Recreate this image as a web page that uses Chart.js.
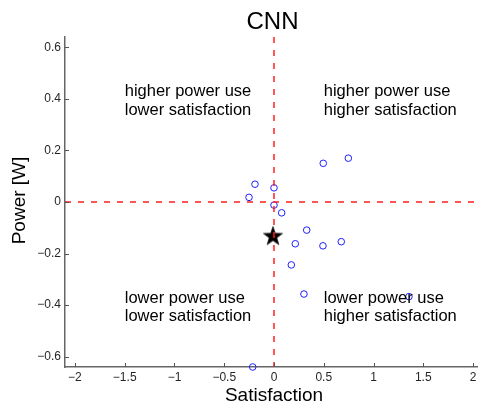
<!DOCTYPE html>
<html>
<head>
<meta charset="utf-8">
<script src="https://cdn.jsdelivr.net/npm/chart.js@4/dist/chart.umd.min.js"></script>
<style>
  html, body { margin: 0; padding: 0; background: #fff; }
  #wrap { width: 478px; height: 410px; position: relative; }
</style>
</head>
<body>
<div id="wrap"><canvas id="c" width="478" height="410"></canvas></div>
<script>
// Per-configuration results: satisfaction change vs. power change
const satisfaction = [0.495, 0.747, -0.191, 0.0, -0.251, 0.0, 0.077, 0.329, 0.214, 0.492, 0.676, 0.174, 0.301, 1.356, -0.214];
const power        = [0.150, 0.170, 0.069, 0.055, 0.018, -0.012, -0.042, -0.109, -0.162, -0.170, -0.154, -0.244, -0.357, -0.367, -0.640];

// Reference point (star)
const refSatisfaction = [-0.01];
const refPower = [-0.134];

// Axis limits and ticks
const xLimits = [-2.1, 2.05];
const yLimits = [-0.64, 0.64];
const xTicks = [-2, -1.5, -1, -0.5, 0, 0.5, 1, 1.5, 2];
const yTicks = [-0.6, -0.4, -0.2, 0, 0.2, 0.4, 0.6];

// Quadrant captions: [x, y, line1, line2]
const quadrantX = [-1.5, 0.5, -1.5, 0.5];
const quadrantY = [0.4, 0.4, -0.4, -0.4];
const quadrantText = [
  ['higher power use', 'lower satisfaction'],
  ['higher power use', 'higher satisfaction'],
  ['lower power use', 'lower satisfaction'],
  ['lower power use', 'higher satisfaction']
];

const titleText = 'CNN';
const xLabel = 'Satisfaction';
const yLabel = 'Power [W]';

const FONT = '"Liberation Sans", Arial, sans-serif';

// Filled five-pointed star marker
function makeStar(outer, inner, color) {
  const size = Math.ceil(outer * 2 + 4);
  const cv = document.createElement('canvas');
  cv.width = size; cv.height = size;
  const g = cv.getContext('2d');
  const c = size / 2;
  g.beginPath();
  for (let i = 0; i < 10; i++) {
    const r = i % 2 === 0 ? outer : inner;
    const a = -Math.PI / 2 + i * Math.PI / 5;
    const px = c + r * Math.cos(a), py = c + r * Math.sin(a);
    if (i === 0) g.moveTo(px, py); else g.lineTo(px, py);
  }
  g.closePath();
  g.fillStyle = color;
  g.fill();
  g.lineWidth = 0.8;
  g.strokeStyle = '#222';
  g.stroke();
  return cv;
}
const starImg = makeStar(10, 4, '#000');

const fmt = v => String(v).replace('-', '\u2212');

// Inward tick marks, captions, title and axis labels
const decorations = {
  id: 'decorations',
  afterDraw(chart) {
    const ctx = chart.ctx;
    const xs = chart.scales.x, ys = chart.scales.y;
    const area = chart.chartArea;
    ctx.save();
    ctx.strokeStyle = '#555';
    ctx.lineWidth = 1;
    xTicks.forEach(v => {
      const px = Math.round(xs.getPixelForValue(v)) + 0.5;
      ctx.beginPath(); ctx.moveTo(px, area.bottom); ctx.lineTo(px, area.bottom - 4); ctx.stroke();
    });
    yTicks.forEach(v => {
      const py = Math.round(ys.getPixelForValue(v)) + 0.5;
      ctx.beginPath(); ctx.moveTo(area.left, py); ctx.lineTo(area.left + 4, py); ctx.stroke();
    });

    ctx.fillStyle = '#000';
    ctx.textAlign = 'left';
    ctx.textBaseline = 'alphabetic';
    ctx.font = '16.5px ' + FONT;
    quadrantText.forEach((lines, i) => {
      const px = xs.getPixelForValue(quadrantX[i]);
      const py = ys.getPixelForValue(quadrantY[i]);
      ctx.fillText(lines[0], px, py - 2.5);
      ctx.fillText(lines[1], px, py + 16);
    });

    ctx.textAlign = 'center';
    ctx.font = '24px ' + FONT;
    ctx.fillText(titleText, 272.5, 28.5);

    ctx.font = '19px ' + FONT;
    ctx.fillText(xLabel, 274, 401);

    ctx.save();
    ctx.translate(24.5, 200.5);
    ctx.rotate(-Math.PI / 2);
    ctx.fillText(yLabel, 0, 0);
    ctx.restore();
    ctx.restore();
  }
};

const points = satisfaction.map((s, i) => ({ x: s, y: power[i] }));
const refPoints = refSatisfaction.map((s, i) => ({ x: s, y: refPower[i] }));

const axisColor = '#666';
const tickFont = { family: FONT, size: 12 };

new Chart(document.getElementById('c'), {
  type: 'scatter',
  data: {
    datasets: [
      {
        type: 'line',
        data: [{ x: xLimits[0], y: 0 }, { x: xLimits[1], y: 0 }],
        borderColor: 'rgb(255,30,30)',
        borderWidth: 1.5,
        borderDash: [6, 7],
        pointRadius: 0,
        fill: false
      },
      {
        type: 'line',
        data: [{ x: 0, y: yLimits[1] }, { x: 0, y: yLimits[0] }],
        borderColor: 'rgb(255,30,30)',
        borderWidth: 1.5,
        borderDash: [6, 7],
        pointRadius: 0,
        fill: false
      },
      {
        data: refPoints,
        pointStyle: starImg,
        pointRadius: 10,
        clip: false
      },
      {
        data: points,
        pointStyle: 'circle',
        pointRadius: 3.3,
        borderWidth: 1,
        borderColor: 'rgb(30,30,255)',
        backgroundColor: 'rgba(0,0,0,0)',
        clip: false
      }
    ]
  },
  options: {
    responsive: false,
    animation: false,
    events: [],
    layout: { autoPadding: false, padding: { top: 37, right: 0, left: 0, bottom: 0 } },
    plugins: { legend: { display: false }, tooltip: { enabled: false }, title: { display: false } },
    scales: {
      x: {
        type: 'linear',
        min: xLimits[0],
        max: xLimits[1],
        afterBuildTicks: s => { s.ticks = xTicks.map(v => ({ value: v })); },
        afterFit: s => { s.height = 43; s.paddingRight = 0; s.paddingLeft = 0; },
        ticks: { callback: fmt, font: tickFont, color: '#262626', padding: 3, maxRotation: 0, autoSkip: false },
        grid: { display: true, drawOnChartArea: false, drawTicks: false },
        border: { display: true, color: axisColor, width: 1.5 }
      },
      y: {
        type: 'linear',
        min: yLimits[0],
        max: yLimits[1],
        afterBuildTicks: s => { s.ticks = yTicks.map(v => ({ value: v })); },
        afterFit: s => { s.width = 65; s.paddingTop = 0; s.paddingBottom = 0; },
        ticks: { callback: fmt, font: tickFont, color: '#262626', padding: 4, autoSkip: false },
        grid: { display: true, drawOnChartArea: false, drawTicks: false },
        border: { display: true, color: axisColor, width: 1.5 }
      }
    }
  },
  plugins: [decorations]
});
</script>
</body>
</html>
